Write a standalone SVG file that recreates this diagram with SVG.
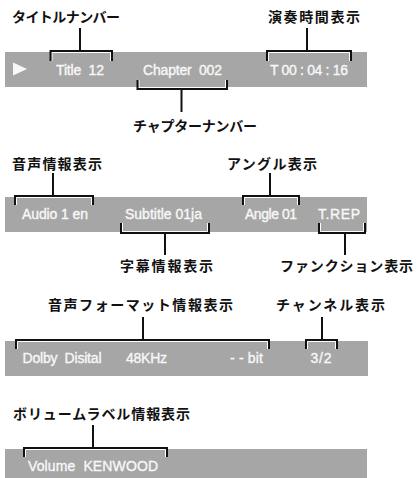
<svg xmlns="http://www.w3.org/2000/svg" width="417" height="478" viewBox="0 0 417 478">
<style>
.bg{fill:#ffffff}
.bar{fill:#a6a6a6}
.bt{fill:#f8f8f8;stroke:#f8f8f8;stroke-width:0.35;font-family:"Liberation Sans",Arial,sans-serif;font-size:14px}
.lbl{fill:#111111;font-family:"Noto Sans CJK JP","Noto Sans",sans-serif;font-size:14px;font-weight:700}
.bk{fill:none;stroke:#111111;stroke-width:2;stroke-linejoin:miter;stroke-linecap:butt}
.wh{fill:none;stroke:#ffffff;stroke-width:1}
</style>
<rect class="bg" x="0" y="0" width="417" height="478"/>

<g id="bar1">
<rect class="bar" x="5" y="52" width="362" height="35"/>
<polygon points="13,62.5 27,69 13,75.5" fill="#f8f8f8"/>
<text class="bt" x="56" y="75" textLength="48" lengthAdjust="spacing" xml:space="preserve">Title  12</text>
<text class="bt" x="143" y="75" textLength="79" lengthAdjust="spacing" xml:space="preserve">Chapter  002</text>
<text class="bt" x="270" y="75" textLength="78" lengthAdjust="spacing">T 00 : 04 : 16</text>
</g>
<g id="bar2">
<rect class="bar" x="5" y="197" width="362" height="35"/>
<text class="bt" x="22" y="219" textLength="66" lengthAdjust="spacing">Audio 1 en</text>
<text class="bt" x="125" y="219" textLength="77" lengthAdjust="spacing">Subtitle 01ja</text>
<text class="bt" x="245" y="219" textLength="52" lengthAdjust="spacing">Angle 01</text>
<text class="bt" x="318" y="219" textLength="42" lengthAdjust="spacing">T.REP</text>
</g>
<g id="bar3">
<rect class="bar" x="5" y="341" width="363" height="35"/>
<text class="bt" x="22.5" y="363" textLength="79" lengthAdjust="spacing" xml:space="preserve">Dolby  Disital</text>
<text class="bt" x="126" y="363" textLength="41" lengthAdjust="spacing">48KHz</text>
<text class="bt" x="230" y="363" textLength="33" lengthAdjust="spacing">- - bit</text>
<text class="bt" x="310.5" y="363" textLength="21" lengthAdjust="spacing">3/2</text>
</g>
<g id="bar4">
<rect class="bar" x="5" y="449" width="362" height="29"/>
<text class="bt" x="28" y="471" textLength="130" lengthAdjust="spacing" xml:space="preserve">Volume  KENWOOD</text>
</g>

<g id="label-title"><text class="lbl" x="12" y="22" textLength="108" lengthAdjust="spacing">タイトルナンバー</text></g>
<g id="label-time"><text class="lbl" x="268" y="22" textLength="92" lengthAdjust="spacing">演奏時間表示</text></g>
<g id="label-chapter"><text class="lbl" x="133" y="130.5" textLength="124" lengthAdjust="spacing">チャプターナンバー</text></g>
<g id="label-audio"><text class="lbl" x="12" y="169" textLength="90" lengthAdjust="spacing">音声情報表示</text></g>
<g id="label-angle"><text class="lbl" x="227" y="169" textLength="90" lengthAdjust="spacing">アングル表示</text></g>
<g id="label-subtitle"><text class="lbl" x="120" y="271" textLength="93" lengthAdjust="spacing">字幕情報表示</text></g>
<g id="label-function"><text class="lbl" x="280" y="271" textLength="133" lengthAdjust="spacing">ファンクション表示</text></g>
<g id="label-format"><text class="lbl" x="48" y="310" textLength="185" lengthAdjust="spacing">音声フォーマット情報表示</text></g>
<g id="label-channel"><text class="lbl" x="276" y="310" textLength="109" lengthAdjust="spacing">チャンネル表示</text></g>
<g id="label-volume"><text class="lbl" x="13" y="419" textLength="177" lengthAdjust="spacing">ボリュームラベル情報表示</text></g>

<g id="connectors">
<!-- title -->
<path class="wh" d="M52 61 V52.5 H110.5 V61"/>
<path class="bk" d="M50.5 61 V51 H112 V61"/>
<path class="bk" d="M80 28 V51"/>
<!-- time -->
<path class="wh" d="M268.5 61 V52.5 H349.5 V61"/>
<path class="bk" d="M267 61 V51 H351 V61"/>
<path class="bk" d="M307 28 V51"/>
<!-- chapter -->
<path class="wh" d="M139 80 V87.5 H225.5 V80"/>
<path class="bk" d="M137.5 80 V89 H227 V80"/>
<path class="bk" d="M181.5 89 V112"/>
<!-- audio -->
<path class="wh" d="M16.5 205 V197.5 H91.5 V205"/>
<path class="bk" d="M15 205 V196 H93 V205"/>
<path class="bk" d="M53 173 V196"/>
<!-- angle -->
<path class="wh" d="M244.5 205 V197.5 H297.5 V205"/>
<path class="bk" d="M243 205 V196 H299 V205"/>
<path class="bk" d="M270 173 V196"/>
<!-- subtitle -->
<path class="wh" d="M122.5 223 V231.5 H207.5 V223"/>
<path class="bk" d="M121 223 V233 H209 V223"/>
<path class="bk" d="M165 233 V255"/>
<!-- function -->
<path class="wh" d="M320.5 223 V231.5 H363.5 V223"/>
<path class="bk" d="M319 223 V233 H365 V223"/>
<path class="bk" d="M345 233 V255"/>
<!-- format -->
<path class="wh" d="M17.5 349 V341.5 H267.5 V349"/>
<path class="bk" d="M16 349 V340 H269 V349"/>
<path class="bk" d="M143 317 V340"/>
<!-- channel -->
<path class="wh" d="M307.5 349 V341.5 H335.5 V349"/>
<path class="bk" d="M306 349 V340 H337 V349"/>
<path class="bk" d="M322 317 V340"/>
<!-- volume -->
<path class="wh" d="M25.5 457 V449.5 H165.5 V457"/>
<path class="bk" d="M24 457 V448 H167 V457"/>
<path class="bk" d="M93 425 V448"/>
</g>
</svg>
